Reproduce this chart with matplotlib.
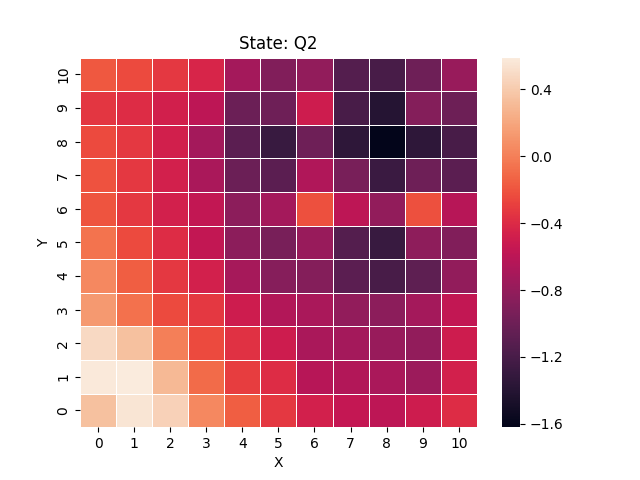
import numpy as np
import pandas as pd
import matplotlib
matplotlib.use("Agg")
import matplotlib.pyplot as plt
from matplotlib.ticker import MultipleLocator
import seaborn as sns

x_vals = list(range(11))
y_vals = list(range(11))

# rows listed for Y = 0 .. 10, columns X = 0 .. 10
q_y0 = [0.34, 0.55, 0.44, 0.04, -0.16, -0.33, -0.47, -0.55, -0.59, -0.50, -0.39]
q_y1 = [0.58, 0.59, 0.30, -0.10, -0.30, -0.39, -0.62, -0.65, -0.69, -0.76, -0.47]
q_y2 = [0.48, 0.34, 0.00, -0.24, -0.36, -0.50, -0.69, -0.72, -0.78, -0.81, -0.50]
q_y3 = [0.13, -0.07, -0.24, -0.33, -0.50, -0.65, -0.69, -0.81, -0.84, -0.72, -0.56]
q_y4 = [0.04, -0.16, -0.33, -0.47, -0.71, -0.87, -0.88, -1.10, -1.20, -1.08, -0.81]
q_y5 = [-0.06, -0.24, -0.39, -0.56, -0.84, -0.94, -0.78, -1.13, -1.29, -0.83, -0.90]
q_y6 = [-0.20, -0.33, -0.47, -0.56, -0.84, -0.72, -0.22, -0.59, -0.81, -0.22, -0.62]
q_y7 = [-0.21, -0.33, -0.47, -0.69, -1.01, -1.10, -0.66, -0.94, -1.28, -0.99, -1.10]
q_y8 = [-0.24, -0.33, -0.48, -0.72, -1.10, -1.29, -0.99, -1.35, -1.62, -1.35, -1.20]
q_y9 = [-0.34, -0.39, -0.48, -0.59, -1.01, -0.99, -0.50, -1.20, -1.40, -0.88, -1.00]
q_y10 = [-0.18, -0.24, -0.33, -0.43, -0.72, -0.90, -0.81, -1.13, -1.20, -0.99, -0.78]

rows = [q_y0, q_y1, q_y2, q_y3, q_y4, q_y5, q_y6, q_y7, q_y8, q_y9, q_y10]
df = pd.DataFrame(rows, index=pd.Index(y_vals, name="Y"), columns=pd.Index(x_vals, name="X"))

fig, ax = plt.subplots(figsize=(6.4, 4.8), dpi=100)
sns.heatmap(df, cmap="rocket", linewidths=0.5, linecolor="white", ax=ax)
ax.invert_yaxis()
cbar = ax.collections[0].colorbar
cbar.ax.yaxis.set_major_locator(MultipleLocator(0.4))
ax.set_title("State: Q2")
ax.set_xlabel("X")
ax.set_ylabel("Y")
fig.savefig("out.png", dpi=100)
